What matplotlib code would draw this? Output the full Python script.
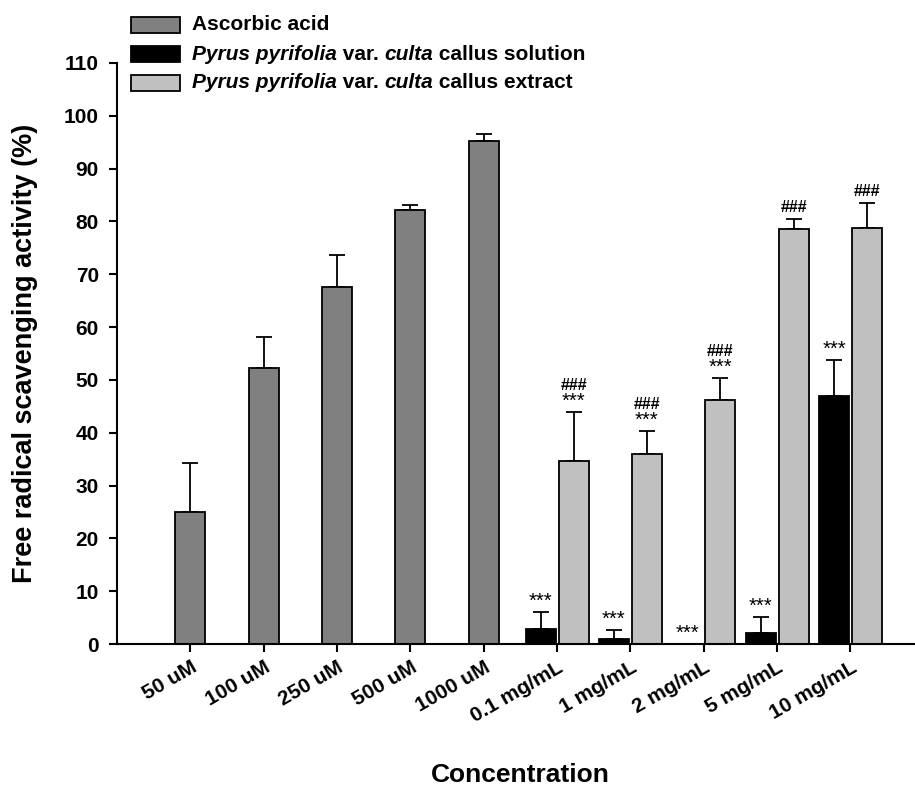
import numpy as np
import matplotlib
matplotlib.use("Agg")
import matplotlib.pyplot as plt
from matplotlib.patches import Rectangle

plt.rcParams['font.family'] = ['Liberation Sans', 'DejaVu Sans']

# data
categories = ['50 uM', '100 uM', '250 uM', '500 uM', '1000 uM',
              '0.1 mg/mL', '1 mg/mL', '2 mg/mL', '5 mg/mL', '10 mg/mL']
asc_mean = [24.9, 52.2, 67.6, 82.2, 95.2]
asc_err = [9.3, 6.0, 6.0, 1.0, 1.4]
sol_mean = [2.8, 0.9, 0.0, 2.1, 46.9]
sol_err = [3.2, 1.8, np.nan, 3.0, 6.8]
ext_mean = [34.7, 35.9, 46.2, 78.6, 78.7]
ext_err = [9.3, 4.5, 4.2, 1.8, 4.8]
sol_stars = ['***', '***', '***', '***', '***']
ext_stars = ['***', '***', '***', '', '']
ext_hash = ['###', '###', '###', '###', '###']

W, H = 915, 789
fig = plt.figure(figsize=(W / 100, H / 100), dpi=100)
ax = fig.add_axes([117 / W, 1 - 644 / H, 798 / W, 581 / H])

x_asc = np.arange(5)
x_mg = np.arange(5, 10)
bw = 0.41
off = 0.225
ek = dict(fmt='none', ecolor='black', capsize=5.5, elinewidth=1.3, capthick=1.3)

ax.bar(x_asc, asc_mean, bw, color='#808080', edgecolor='black', linewidth=1.3, zorder=2)
ax.errorbar(x_asc, asc_mean, yerr=[np.zeros(5), asc_err], zorder=1, **ek)
ax.bar(x_mg - off, sol_mean, bw, color='black', edgecolor='black', linewidth=1.3, zorder=2)
ax.errorbar(x_mg - off, sol_mean, yerr=[np.zeros(5), sol_err], zorder=1, **ek)
ax.bar(x_mg + off, ext_mean, bw, color='#c0c0c0', edgecolor='black', linewidth=1.3, zorder=2)
ax.errorbar(x_mg + off, ext_mean, yerr=[np.zeros(5), ext_err], zorder=1, **ek)

# significance marks
def top_of(m, e):
    return m + (0 if np.isnan(e) else e)

for i in range(5):
    t = top_of(sol_mean[i], sol_err[i])
    ax.text(x_mg[i] - off, t + 2.0, sol_stars[i], ha='center', va='center', fontsize=14.5)
    t = top_of(ext_mean[i], ext_err[i])
    if ext_stars[i]:
        ax.text(x_mg[i] + off, t + 2.0, ext_stars[i], ha='center', va='center', fontsize=14.5)
        ax.text(x_mg[i] + off, t + 5.0, ext_hash[i], ha='center', va='center',
                fontsize=11.5, fontweight='bold')
    else:
        ax.text(x_mg[i] + off, t + 2.2, ext_hash[i], ha='center', va='center',
                fontsize=11.5, fontweight='bold')

ax.set_xlim(-1, 9.88)
ax.set_ylim(0, 110)
ax.set_yticks(np.arange(0, 111, 10))
ax.set_xticks(np.arange(10))
ax.set_xticklabels(categories, rotation=30, ha='right', va='top', rotation_mode='anchor')
for lab in ax.get_xticklabels() + ax.get_yticklabels():
    lab.set_fontweight('bold')
    lab.set_fontsize(15)
ax.tick_params(length=6, width=1.5, direction='out')
ax.tick_params(axis='x', pad=4)
ax.tick_params(axis='y', pad=7)
for s in ['top', 'right']:
    ax.spines[s].set_visible(False)
for s in ['left', 'bottom']:
    ax.spines[s].set_linewidth(1.5)

fig.text(25 / W, 1 - 353 / H, 'Free radical scavenging activity (%)', rotation=90,
         ha='center', va='center', fontsize=19.5, fontweight='bold')
fig.text(520 / W, 1 - 775 / H, 'Concentration', ha='center', va='center',
         fontsize=19, fontweight='bold')

# legend drawn by hand so the italic species name can sit inside bold text
legend_rows = [
    ('#808080', [('Ascorbic acid', 'normal')]),
    ('black', [('Pyrus pyrifolia', 'italic'), (' var. ', 'normal'), ('culta', 'italic'),
               (' callus solution', 'normal')]),
    ('#c0c0c0', [('Pyrus pyrifolia', 'italic'), (' var. ', 'normal'), ('culta', 'italic'),
                 (' callus extract', 'normal')]),
]
renderer = fig.canvas.get_renderer()
for k, (col, parts) in enumerate(legend_rows):
    yc = 25 + 29 * k
    fig.add_artist(Rectangle((131 / W, 1 - (yc + 7.5) / H), 49 / W, 15 / H,
                             transform=fig.transFigure, facecolor=col,
                             edgecolor='black', linewidth=1.3))
    xp = 192
    for s, st in parts:
        t = fig.text(xp / W, 1 - yc / H, s, fontsize=15, fontweight='bold', style=st,
                     va='center', ha='left')
        xp += t.get_window_extent(renderer).width

fig.savefig('out.png', dpi=100)
